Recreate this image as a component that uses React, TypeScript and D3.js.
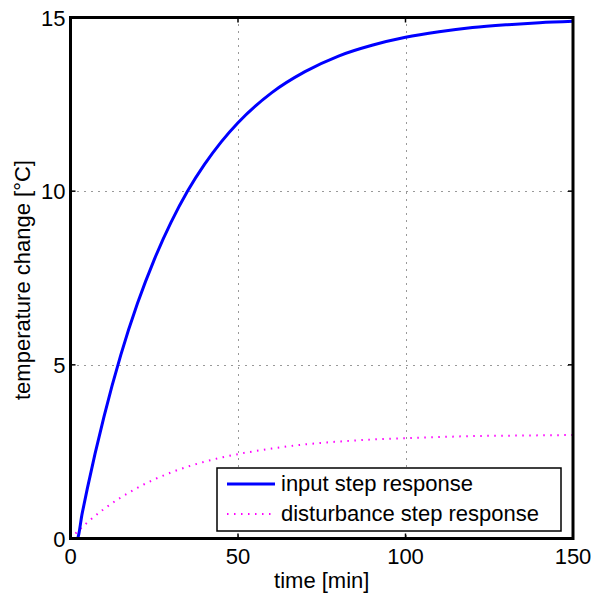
import React from 'react';
import * as d3 from 'd3';

// time samples [min]
const timeMin = [0, 2, 3.5, 5, 10, 15, 20, 25, 30, 35, 40, 45, 50, 60, 70, 80, 90, 100, 110, 120, 130, 140, 150];
// input step response [°C] (starts after a ~2 min dead time)
const inputStep = [0, 0, 0.73, 1.43, 3.51, 5.28, 6.77, 8.03, 9.1, 10.01, 10.77, 11.42, 11.97, 12.83, 13.44, 13.89, 14.2, 14.43, 14.59, 14.71, 14.79, 14.85, 14.89];
// disturbance step response [°C]
const disturbanceStep = [0, 0.19, 0.33, 0.46, 0.85, 1.18, 1.46, 1.7, 1.9, 2.07, 2.21, 2.33, 2.43, 2.59, 2.71, 2.79, 2.85, 2.89, 2.92, 2.95, 2.96, 2.97, 2.98];

const xTicks = [0, 50, 100, 150];
const yTicks = [0, 5, 10, 15];
const legendLabels = ['input step response', 'disturbance step response'];

const W = 595, H = 597;
const left = 70.5, right = 573, top = 17.5, bottom = 538.5;
const font = 'Liberation Sans, Arial, Helvetica, sans-serif';

// snap a coordinate to the pixel grid so 1px dotted lines stay crisp
const crisp = (v: number) => Math.round(v) + 0.5;

export default function App() {
    const x = d3.scaleLinear().domain([0, 150]).range([left, right]);
    const y = d3.scaleLinear().domain([0, 15]).range([bottom, top]);

    const line = d3.line<number>()
        .x((d, i) => x(timeMin[i]))
        .y(d => y(d))
        .curve(d3.curveMonotoneX);

    const fs = 22;

    return (
        <svg width={W} height={H} style={{ position: 'absolute', left: 0, top: 0, background: '#fff' }}
             fontFamily={font}>
            <rect x={0} y={0} width={W} height={H} fill="#fff" />

            {/* grid */}
            {xTicks.slice(1, -1).map(t => (
                <line key={'gx' + t} x1={crisp(x(t))} x2={crisp(x(t))} y1={top} y2={bottom}
                      stroke="#333" strokeWidth={1} strokeDasharray="1,6" />
            ))}
            {yTicks.slice(1, -1).map(t => (
                <line key={'gy' + t} x1={left} x2={right} y1={crisp(y(t))} y2={crisp(y(t))}
                      stroke="#333" strokeWidth={1} strokeDasharray="1,6" />
            ))}

            {/* tick marks */}
            {xTicks.slice(1, -1).map(t => (
                <g key={'tx' + t} stroke="#000" strokeWidth={1.5}>
                    <line x1={x(t)} x2={x(t)} y1={bottom} y2={bottom - 5} />
                    <line x1={x(t)} x2={x(t)} y1={top} y2={top + 5} />
                </g>
            ))}
            {yTicks.slice(1, -1).map(t => (
                <g key={'ty' + t} stroke="#000" strokeWidth={1.5}>
                    <line x1={left} x2={left + 5} y1={y(t)} y2={y(t)} />
                    <line x1={right} x2={right - 5} y1={y(t)} y2={y(t)} />
                </g>
            ))}

            {/* series */}
            <path d={line(disturbanceStep) || ''} fill="none" stroke="#ff00ff" strokeWidth={2}
                  strokeDasharray="1.5,5.5" />
            <path d={line(inputStep) || ''} fill="none" stroke="#0000ff" strokeWidth={3} />

            {/* axes box */}
            <rect x={left} y={top} width={right - left} height={bottom - top}
                  fill="none" stroke="#000" strokeWidth={3} />

            {/* tick labels */}
            {xTicks.map(t => (
                <text key={'lx' + t} x={x(t)} y={bottom + 25} fontSize={fs} textAnchor="middle">{t}</text>
            ))}
            {yTicks.map(t => (
                <text key={'ly' + t} x={left - 5} y={y(t) + 8} fontSize={fs} textAnchor="end">{t}</text>
            ))}

            {/* axis labels */}
            <text x={(left + right) / 2} y={588} fontSize={fs} textAnchor="middle">time [min]</text>
            <text transform="translate(30,400) rotate(-90)" fontSize={fs}
                  textAnchor="start">temperature change [°C]</text>

            {/* legend */}
            <rect x={217} y={468} width={344} height={63} fill="#fff" stroke="#000" strokeWidth={1.5} />
            <line x1={227} x2={275} y1={484} y2={484} stroke="#0000ff" strokeWidth={3} />
            <line x1={227} x2={275} y1={514} y2={514} stroke="#ff00ff" strokeWidth={2} strokeDasharray="1.5,5.5" />
            <text x={281} y={491} fontSize={fs}>{legendLabels[0]}</text>
            <text x={281} y={521} fontSize={fs}>{legendLabels[1]}</text>
        </svg>
    );
}
